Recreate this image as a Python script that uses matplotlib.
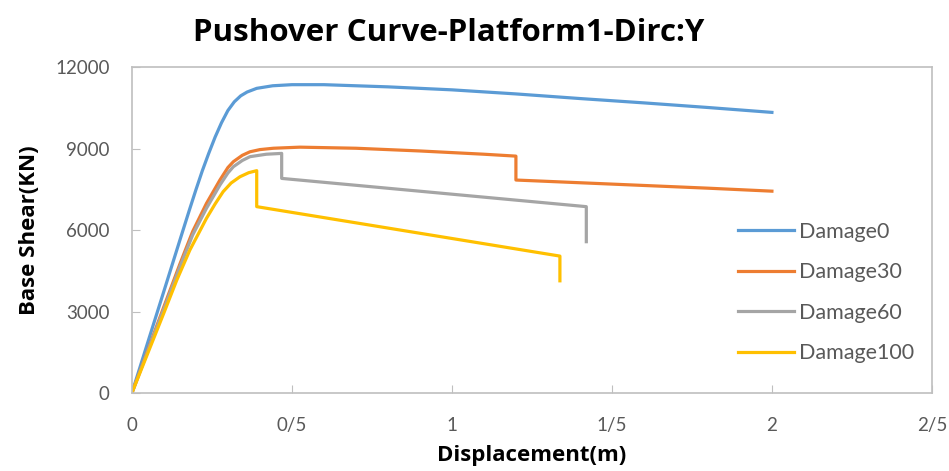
import matplotlib
matplotlib.use("Agg")
import matplotlib.pyplot as plt

plt.rcParams['font.family'] = ['Lato', 'DejaVu Sans']

# curves (displacement m, base shear kN)
x_d0 = [0, 0.05, 0.1, 0.15, 0.18, 0.2, 0.22, 0.24, 0.26, 0.28, 0.30, 0.32, 0.34, 0.36, 0.39, 0.44, 0.5, 0.6,
        0.8, 1.0, 1.2, 1.4, 1.6, 1.8, 2.0]
y_d0 = [0, 1880, 3750, 5630, 6750, 7480, 8180, 8820, 9420, 9950, 10400, 10720, 10940, 11080, 11215, 11310, 11350, 11350,
        11270, 11160, 11010, 10840, 10680, 10510, 10330]

x_d30 = [0, 0.1, 0.15, 0.19, 0.233, 0.275, 0.30, 0.317, 0.345, 0.369, 0.40, 0.442, 0.525, 0.7, 0.9, 1.1, 1.2,
         1.2, 1.4, 1.6, 1.8, 2.0]
y_d30 = [0, 3180, 4750, 5950, 6980, 7840, 8300, 8515, 8750, 8880, 8960, 9010, 9050, 9010, 8910, 8790, 8720,
         7840, 7740, 7640, 7540, 7430]

x_d60 = [0, 0.1, 0.15, 0.19, 0.233, 0.275, 0.30, 0.317, 0.345, 0.369, 0.42, 0.468, 0.468, 1.42, 1.42]
y_d60 = [0, 3100, 4650, 5820, 6800, 7655, 8100, 8330, 8560, 8700, 8790, 8820, 7900, 6860, 5570]

x_d100 = [0, 0.1, 0.14, 0.181, 0.233, 0.26, 0.285, 0.31, 0.3375, 0.365, 0.39, 0.39, 1.3375, 1.3375]
y_d100 = [0, 2950, 4150, 5260, 6430, 6960, 7410, 7730, 7960, 8110, 8185, 6860, 5040, 4130]

names = ['Damage0', 'Damage30', 'Damage60', 'Damage100']
colors = ['#5b9bd5', '#ed7d31', '#a5a5a5', '#ffc000']

xticks = [0, 0.5, 1, 1.5, 2, 2.5]
xticklabels = ['0', '0/5', '1', '1/5', '2', '2/5']
yticks = [0, 3000, 6000, 9000, 12000]

fig = plt.figure(figsize=(9.49, 4.71), dpi=100)
ax = fig.add_axes([0.139, 0.1656, 0.843, 0.6921])

for xs, ys, nm, c in zip([x_d0, x_d30, x_d60, x_d100], [y_d0, y_d30, y_d60, y_d100], names, colors):
    ax.plot(xs, ys, color=c, lw=2.3, label=nm, solid_joinstyle='round')

ax.set_xlim(0, 2.5)
ax.set_ylim(0, 12000)
ax.set_xticks(xticks)
ax.set_xticklabels(xticklabels)
ax.set_yticks(yticks)
ax.tick_params(direction='in', length=6, color='#bfbfbf', labelcolor='#595959', labelsize=13.5)
ax.tick_params(axis='x', pad=17)
ax.tick_params(axis='y', pad=16)
for s in ax.spines.values():
    s.set_color('#bfbfbf')
    s.set_linewidth(1.2)

ax.set_xlabel('Displacement(m)', fontsize=16, fontweight='bold', family='Open Sans', labelpad=8.5)
ax.set_ylabel('Base Shear(KN)', fontsize=16, fontweight='bold', family='Open Sans', labelpad=11)
fig.text(0.473, 0.93, 'Pushover Curve-Platform1-Dirc:Y', ha='center', va='center',
         fontsize=22.5, fontweight='bold', family='Open Sans')

leg = ax.legend(loc='upper left', bbox_to_anchor=(0.7575, 0.525), frameon=False, fontsize=15.5,
                handlelength=2.6, labelspacing=0.95, handletextpad=0.25, borderpad=0, borderaxespad=0)
for t in leg.get_texts():
    t.set_color('#595959')

plt.savefig('out.png')
